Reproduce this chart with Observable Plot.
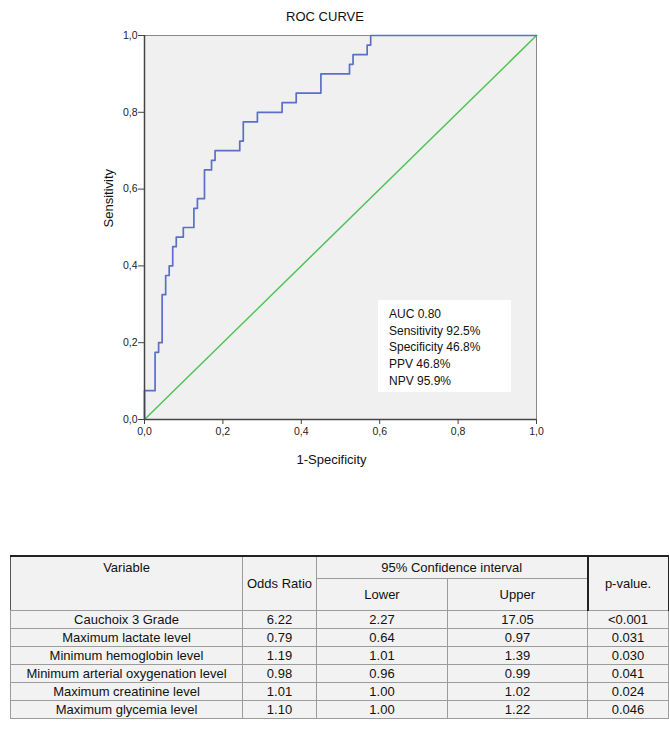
<!DOCTYPE html>
<html><head><meta charset="utf-8">
<script src="https://cdn.jsdelivr.net/npm/d3@7"></script>
<script src="https://cdn.jsdelivr.net/npm/@observablehq/plot@0.6"></script>
<style>
body{margin:0;background:#fff;font-family:"Liberation Sans",Arial,sans-serif;}
#wrap{position:relative;width:669px;height:738px;}
#title{position:absolute;left:325px;top:9px;transform:translateX(-50%);font-size:13px;color:#111;white-space:nowrap;}
#chart{position:absolute;left:0;top:0;}
#stats{position:absolute;left:378px;top:300px;width:133px;height:92px;background:#fff;box-sizing:border-box;padding:6px 0 0 11px;font-size:12px;line-height:16.7px;color:#111;}
#tbl{position:absolute;left:10px;top:555px;border-collapse:collapse;table-layout:fixed;width:658px;font-size:13px;color:#111;}
#tbl td{border:1px solid #9c9c9c;background:#f2f2f2;text-align:center;padding:0;box-sizing:border-box;}
#tbl tr.h1 td{border-top:2px solid #222;height:22px;}
#tbl tr.h2 td{height:32px;}
#tbl tr.d td{height:18px;}
#tbl td.var-h{vertical-align:top;padding-top:3px;}
#tbl td.thick{border-right:2px solid #222;}
#tbl td.right{border-right:2px solid #222;}
</style></head>
<body>
<div id="wrap">
  <div id="chart"></div>
  <div id="title"></div>
  <div id="stats"></div>
  <table id="tbl"></table>
</div>
<script>
// ---- chart data ----
const chartTitle = "ROC CURVE";
const xLabel = "1-Specificity";
const yLabel = "Sensitivity";
const tickValues = [0, 0.2, 0.4, 0.6, 0.8, 1.0];
// ROC curve vertices (1 - specificity, sensitivity), drawn as a step-after line
const fpr = [0, 0, 0.027, 0.036, 0.045, 0.054, 0.063, 0.072, 0.081, 0.099, 0.126, 0.135, 0.153, 0.171, 0.180, 0.243, 0.252, 0.288, 0.351, 0.387, 0.450, 0.523, 0.532, 0.568, 0.577, 1.0];
const tpr = [0, 0.075, 0.175, 0.2, 0.325, 0.375, 0.4, 0.45, 0.475, 0.5, 0.55, 0.575, 0.65, 0.675, 0.70, 0.725, 0.775, 0.80, 0.825, 0.85, 0.90, 0.925, 0.95, 0.975, 1.0, 1.0];
// reference diagonal
const diagX = [0, 1];
const diagY = [0, 1];
const statsLines = ["AUC 0.80", "Sensitivity 92.5%", "Specificity 46.8%", "PPV 46.8%", "NPV 95.9%"];

// ---- table data ----
const variables = ["Cauchoix 3 Grade", "Maximum lactate level", "Minimum hemoglobin level", "Minimum arterial oxygenation level", "Maximum creatinine level", "Maximum glycemia level"];
const oddsRatio = ["6.22", "0.79", "1.19", "0.98", "1.01", "1.10"];
const ciLower = ["2.27", "0.64", "1.01", "0.96", "1.00", "1.00"];
const ciUpper = ["17.05", "0.97", "1.39", "0.99", "1.02", "1.22"];
const pValues = ["<0.001", "0.031", "0.030", "0.041", "0.024", "0.046"];
const colWidths = [232, 74, 131, 140, 81];

const roc = fpr.map((f, i) => ({fpr: f, tpr: tpr[i]}));
const diag = diagX.map((d, i) => ({x: d, y: diagY[i]}));
const fmt = d => d.toFixed(1).replace(".", ",");

const chart = Plot.plot({
  width: 669,
  height: 480,
  marginTop: 35,
  marginLeft: 144,
  marginRight: 133,
  marginBottom: 61,
  style: {fontFamily: "'Liberation Sans', Arial, sans-serif", fontSize: "10.5px", color: "#222", background: "transparent"},
  x: {domain: [0, 1]},
  y: {domain: [0, 1]},
  marks: [
    Plot.frame({fill: "#f0f0f0", stroke: "#888"}),
    Plot.line(diag, {x: "x", y: "y", stroke: "#4dc553", strokeWidth: 1.5}),
    Plot.line(roc, {x: "fpr", y: "tpr", curve: "step-after", stroke: "#5a6fc6", strokeWidth: 1.7}),
    Plot.ruleX([0], {stroke: "#444", strokeWidth: 1.5}),
    Plot.ruleY([0], {stroke: "#444", strokeWidth: 1.5}),
    Plot.axisX({ticks: tickValues, tickFormat: fmt, tickSize: 5, tickPadding: 3, label: null, stroke: "#444"}),
    Plot.axisY({ticks: tickValues, tickFormat: fmt, tickSize: 6, tickPadding: 1, label: null, stroke: "#444"}),
    Plot.text([xLabel], {text: d => d, frameAnchor: "bottom", dy: 44, dx: -9, fontSize: 13, fill: "#111"}),
    Plot.text([yLabel], {text: d => d, frameAnchor: "left", dx: -36, rotate: -90, fontSize: 13, fill: "#111"})
  ]
});
document.getElementById("chart").appendChild(chart);
document.getElementById("title").textContent = chartTitle;
document.getElementById("stats").innerHTML = statsLines.map(s => `<div>${s}</div>`).join("");

// ---- table ----
const tbl = document.getElementById("tbl");
const cg = document.createElement("colgroup");
colWidths.forEach(w => { const c = document.createElement("col"); c.style.width = w + "px"; cg.appendChild(c); });
tbl.appendChild(cg);
tbl.insertAdjacentHTML("beforeend",
  `<tr class="h1"><td class="var-h" rowspan="2" style="border-left:1px solid #555">Variable</td><td rowspan="2">Odds Ratio</td><td colspan="2" class="thick">95% Confidence interval</td><td rowspan="2" class="right">p-value.</td></tr>
   <tr class="h2"><td>Lower</td><td class="thick">Upper</td></tr>`);
variables.forEach((v, i) => {
  tbl.insertAdjacentHTML("beforeend",
    `<tr class="d"><td>${v}</td><td>${oddsRatio[i]}</td><td>${ciLower[i]}</td><td>${ciUpper[i]}</td><td>${pValues[i]}</td></tr>`);
});
</script>
</body></html>
